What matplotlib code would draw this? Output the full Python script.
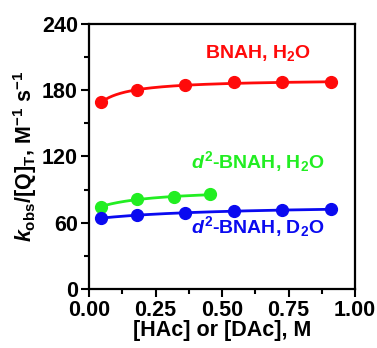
import numpy as np
import matplotlib
matplotlib.use("Agg")
import matplotlib.pyplot as plt

plt.rcParams['font.family'] = ['Liberation Sans', 'DejaVu Sans']
plt.rcParams['font.weight'] = 'bold'
plt.rcParams['mathtext.fontset'] = 'custom'
plt.rcParams['mathtext.rm'] = 'Liberation Sans:bold'
plt.rcParams['mathtext.it'] = 'Liberation Sans:bold:italic'
plt.rcParams['mathtext.bf'] = 'Liberation Sans:bold'

# data
x_red = [0.045, 0.18, 0.36, 0.545, 0.725, 0.91]
y_red = [169, 180, 184.8, 187, 187, 187]
x_green = [0.045, 0.18, 0.32, 0.455]
y_green = [74.5, 81.2, 83, 85.7]
x_blue = [0.045, 0.18, 0.36, 0.545, 0.725, 0.91]
y_blue = [64, 67, 68.5, 70.6, 71.5, 72]

labels = ['BNAH, H$_2$O', '$d^2$-BNAH, H$_2$O', '$d^2$-BNAH, D$_2$O']
colors = ['#ff0a0a', '#22ee22', '#0a0af0']
label_pos = [(0.635, 214), (0.635, 115), (0.635, 56)]


def fit(x, y):
    # hyperbolic saturation fit y = y0 + A*x/(K+x)
    x = np.array(x); y = np.array(y)
    best = None
    for K in np.linspace(0.005, 1.0, 400):
        M = np.column_stack([np.ones_like(x), x / (K + x)])
        c, res, *_ = np.linalg.lstsq(M, y, rcond=None)
        r = np.sum((M @ c - y) ** 2)
        if best is None or r < best[0]:
            best = (r, K, c)
    _, K, c = best
    xs = np.linspace(x.min(), x.max(), 200)
    return xs, c[0] + c[1] * xs / (K + xs)


fig = plt.figure(figsize=(3.77, 3.48), dpi=100)
ax = fig.add_axes([0.236, 0.17, 0.706, 0.761])

for xd, yd, col, lab, pos in zip([x_red, x_green, x_blue], [y_red, y_green, y_blue],
                                 colors, labels, label_pos):
    xs, ys = fit(xd, yd)
    ax.plot(xs, ys, color=col, lw=2)
    ax.plot(xd, yd, 'o', color=col, ms=8.5)
    ax.text(pos[0], pos[1], lab, color=col, fontsize=14, ha='center', va='center',
            fontweight='bold')

ax.set_xlim(0, 1)
ax.set_ylim(0, 240)
ax.set_xticks([0, 0.25, 0.5, 0.75, 1.0])
ax.set_xticks(np.arange(0.125, 1, 0.25), minor=True)
ax.set_yticks(np.arange(0, 241, 60))
ax.set_yticks(np.arange(30, 240, 60), minor=True)
ax.xaxis.set_major_formatter(plt.FormatStrFormatter('%.2f'))
ax.tick_params(which='major', length=6, width=1.5, labelsize=15.5, direction='out', pad=2)
ax.tick_params(which='minor', length=3.5, width=1.5, direction='out')
for s in ax.spines.values():
    s.set_linewidth(1.6)

ax.set_xlabel('[HAc] or [DAc], M', fontsize=15.5, fontweight='bold', labelpad=-1)
ax.set_ylabel('$k_{\\mathrm{obs}}$/[Q]$_\\mathrm{T}$, M$^{-1}$ s$^{-1}$', fontsize=15.5,
              fontweight='bold', labelpad=2)

fig.savefig('out.png', dpi=100)
